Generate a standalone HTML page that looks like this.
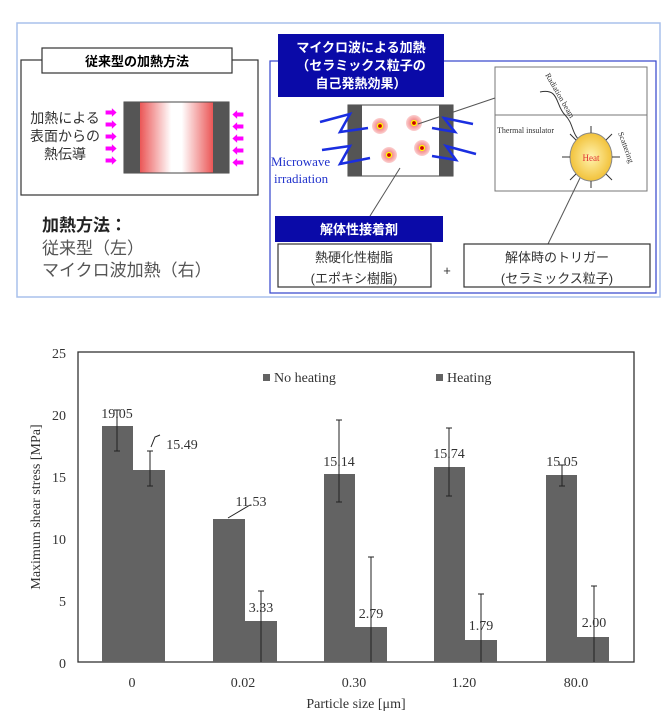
<!DOCTYPE html>
<html><head><meta charset="utf-8"><style>
body{margin:0;background:#fff;}
svg{display:block;}
.j{font-family:"Liberation Sans","Noto Sans CJK JP",sans-serif;}
.s{font-family:"Liberation Serif",serif;}
</style></head><body>
<svg width="662" height="717" viewBox="0 0 662 717" xmlns="http://www.w3.org/2000/svg">
<defs>
<linearGradient id="hg" x1="0" x2="1" y1="0" y2="0">
<stop offset="0" stop-color="#e00000"/><stop offset="0.45" stop-color="#fff"/><stop offset="0.55" stop-color="#fff"/><stop offset="1" stop-color="#e00000"/>
</linearGradient>
<radialGradient id="sg"><stop offset="0" stop-color="#fff3b0"/><stop offset="1" stop-color="#f2c23a"/></radialGradient>
<radialGradient id="rd"><stop offset="0" stop-color="#f06060"/><stop offset="1" stop-color="#fbd0d0"/></radialGradient>
</defs>
<rect x="17" y="23" width="643" height="274" fill="#fff" stroke="#a8c0ec" stroke-width="1.5"/>
<rect x="21" y="60" width="237" height="135" fill="none" stroke="#333" stroke-width="1.2"/>
<rect x="42" y="48" width="190" height="25" fill="#fff" stroke="#333" stroke-width="1.2"/>
<text x="137" y="66" class="j" font-size="13" font-weight="bold" text-anchor="middle">従来型の加熱方法</text>
<rect x="124" y="102" width="105" height="71" fill="url(#hg)" stroke="#444"/>
<rect x="124" y="102" width="16" height="71" fill="#555"/>
<rect x="213" y="102" width="16" height="71" fill="#555"/>
<g class="j" font-size="14" fill="#333" text-anchor="middle">
<text x="65" y="123">加熱による</text><text x="65" y="141">表面からの</text><text x="65" y="159">熱伝導</text></g>
<g fill="#f0f" font-size="12" class="j">
<text x="105" y="117">➡</text><text x="105" y="129">➡</text><text x="105" y="141">➡</text><text x="105" y="153">➡</text><text x="105" y="165">➡</text>
<text x="232" y="119">⬅</text><text x="232" y="131">⬅</text><text x="232" y="143">⬅</text><text x="232" y="155">⬅</text><text x="232" y="167">⬅</text></g>
<text x="42" y="231" class="j" font-size="17" font-weight="bold" fill="#222">加熱方法：</text>
<text x="42" y="254" class="j" font-size="17" fill="#555">従来型（左）</text>
<text x="42" y="276" class="j" font-size="17" fill="#555">マイクロ波加熱（右）</text>
<rect x="270" y="61" width="386" height="232" fill="none" stroke="#3344cc" stroke-width="1.2"/>
<rect x="278" y="34" width="166" height="63" fill="#0a0aa8"/>
<g class="j" font-size="13" font-weight="bold" fill="#fff" text-anchor="middle">
<text x="361" y="52">マイクロ波による加熱</text><text x="361" y="70">（セラミックス粒子の</text><text x="361" y="88">自己発熱効果）</text></g>
<rect x="348" y="105" width="105" height="71" fill="#fff" stroke="#444"/>
<rect x="348" y="105" width="14" height="71" fill="#555"/>
<rect x="439" y="105" width="14" height="71" fill="#555"/>
<g fill="url(#rd)"><circle cx="380" cy="126" r="8"/><circle cx="414" cy="123" r="8"/><circle cx="389" cy="155" r="8"/><circle cx="422" cy="148" r="8"/></g>
<g fill="#c00" stroke="#ff0" stroke-width="1.2"><circle cx="380" cy="126" r="2.5"/><circle cx="414" cy="123" r="2.5"/><circle cx="389" cy="155" r="2.5"/><circle cx="422" cy="148" r="2.5"/></g>
<g stroke="#1a2ee0" stroke-width="2.5" fill="none">
<polyline points="320,122 350,114 340,132 368,128"/><polyline points="322,150 350,146 340,164 370,158"/>
<polyline points="473,124 444,118 455,132 432,128"/><polyline points="476,154 446,146 456,160 432,156"/></g>
<text x="271" y="166" class="s" font-size="13" fill="#2233cc">Microwave</text>
<text x="274" y="183" class="s" font-size="13" fill="#2233cc">irradiation</text>
<rect x="495" y="67" width="152" height="124" fill="#fff" stroke="#777"/>
<line x1="495" y1="115" x2="647" y2="115" stroke="#777"/>
<line x1="418" y1="124" x2="495" y2="98" stroke="#555"/>
<text x="497" y="133" class="s" font-size="8" fill="#333">Thermal insulator</text>
<text x="545" y="75" class="s" font-size="8" fill="#333" transform="rotate(60 545 75)">Radiation beam</text>
<text x="618" y="133" class="s" font-size="8" fill="#333" transform="rotate(70 618 133)">Scattering</text>
<path d="M540,92 C560,88 555,105 565,115 C575,125 570,135 585,145" fill="none" stroke="#333"/>
<ellipse cx="591" cy="157" rx="21" ry="24" fill="url(#sg)" stroke="#888"/>
<text x="591" y="161" class="s" font-size="9" fill="#e03030" text-anchor="middle">Heat</text>
<g stroke="#333"><line x1="591" y1="133" x2="591" y2="126"/><line x1="591" y1="181" x2="591" y2="188"/><line x1="570" y1="157" x2="562" y2="157"/><line x1="612" y1="157" x2="620" y2="157"/><line x1="606" y1="140" x2="612" y2="134"/><line x1="576" y1="140" x2="570" y2="134"/><line x1="606" y1="174" x2="612" y2="180"/><line x1="576" y1="174" x2="570" y2="180"/></g>
<line x1="400" y1="168" x2="370" y2="216" stroke="#555"/>
<line x1="580" y1="178" x2="548" y2="244" stroke="#555"/>
<rect x="275" y="216" width="168" height="26" fill="#0a0aa8"/>
<text x="359" y="234" class="j" font-size="13" font-weight="bold" fill="#fff" text-anchor="middle">解体性接着剤</text>
<rect x="278" y="244" width="153" height="43" fill="#fff" stroke="#333" stroke-width="1.2"/>
<rect x="464" y="244" width="186" height="43" fill="#fff" stroke="#333" stroke-width="1.2"/>
<g class="j" font-size="13" fill="#333" text-anchor="middle">
<text x="354" y="262">熱硬化性樹脂</text><text x="354" y="283">(エポキシ樹脂)</text>
<text x="557" y="262">解体時のトリガー</text><text x="557" y="283">(セラミックス粒子)</text>
<text x="447" y="275">+</text></g>
<rect x="78" y="352" width="556" height="310" fill="none" stroke="#333" stroke-width="1.3"/>
<g class="s" font-size="14" fill="#333" text-anchor="end">
<text x="66" y="358">25</text><text x="66" y="420">20</text><text x="66" y="482">15</text><text x="66" y="544">10</text><text x="66" y="606">5</text><text x="66" y="668">0</text></g>
<text transform="translate(40 507) rotate(-90)" class="s" font-size="14" fill="#333" text-anchor="middle">Maximum shear stress [MPa]</text>
<g fill="#636363">
<rect x="102" y="426" width="31" height="236"/><rect x="133" y="470" width="32" height="192"/>
<rect x="213" y="519" width="32" height="143"/><rect x="245" y="621" width="32" height="41"/>
<rect x="324" y="474" width="31" height="188"/><rect x="355" y="627" width="32" height="35"/>
<rect x="434" y="467" width="31" height="195"/><rect x="465" y="640" width="32" height="22"/>
<rect x="546" y="475" width="31" height="187"/><rect x="577" y="637" width="32" height="25"/>
</g>
<g stroke="#222" stroke-width="1" fill="none">
<path d="M117,410V451M114,410h6M114,451h6"/>
<path d="M150,451V486M147,451h6M147,486h6"/>
<path d="M261,591V662M258,591h6"/>
<path d="M339,420V502M336,420h6M336,502h6"/>
<path d="M371,557V662M368,557h6"/>
<path d="M449,428V496M446,428h6M446,496h6"/>
<path d="M481,594V662M478,594h6"/>
<path d="M562,465V486M559,465h6M559,486h6"/>
<path d="M594,586V662M591,586h6"/>
<path d="M151,447L155,437L160,435"/><path d="M228,518L250,505"/>
</g>
<g class="s" font-size="14" fill="#333" text-anchor="middle">
<text x="117" y="418">19.05</text><text x="182" y="449">15.49</text>
<text x="251" y="506">11.53</text><text x="261" y="612">3.33</text>
<text x="339" y="466">15.14</text><text x="371" y="618">2.79</text>
<text x="449" y="458">15.74</text><text x="481" y="630">1.79</text>
<text x="562" y="466">15.05</text><text x="594" y="627">2.00</text>
<text x="132" y="687">0</text><text x="243" y="687">0.02</text><text x="354" y="687">0.30</text><text x="464" y="687">1.20</text><text x="576" y="687">80.0</text>
<text x="356" y="708">Particle size [μm]</text></g>
<rect x="263" y="374" width="7" height="7" fill="#636363"/>
<text x="274" y="382" class="s" font-size="14" fill="#333">No heating</text>
<rect x="436" y="374" width="7" height="7" fill="#636363"/>
<text x="447" y="382" class="s" font-size="14" fill="#333">Heating</text>
</svg>
</body></html>
